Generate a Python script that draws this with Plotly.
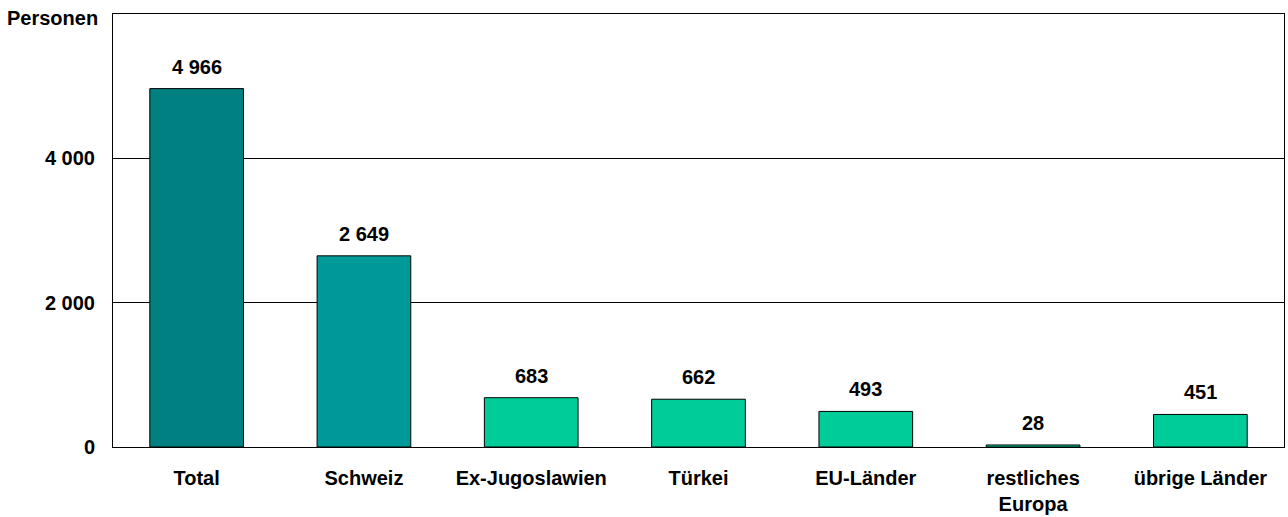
import plotly.graph_objects as go

categories = ["Total", "Schweiz", "Ex-Jugoslawien", "Türkei", "EU-Länder", "restliches<br>Europa", "übrige Länder"]
values = [4966, 2649, 683, 662, 493, 28, 451]
bar_colors = ["#008080", "#009999", "#00CC99", "#00CC99", "#00CC99", "#00CC99", "#00CC99"]
y_ticks = [0, 2000, 4000]
y_tick_text = ["0", "2 000", "4 000"]

FAM = "Liberation Sans, Arial, sans-serif"
font = dict(family=FAM, size=20, color="#000000")

fig = go.Figure()
fig.add_trace(go.Bar(
    x=categories, y=values,
    marker=dict(color=bar_colors, line=dict(color="#000000", width=1)),
    width=0.56, hoverinfo="skip",
))

for c, v in zip(categories, values):
    fig.add_annotation(x=c, y=v, text="<b>" + f"{v:,}".replace(",", " ") + "</b>",
                       showarrow=False, yanchor="bottom", yshift=9,
                       font=font)

fig.add_annotation(xref="paper", yref="paper", x=0, y=1.0, xanchor="right", yanchor="middle",
                   xshift=-13, yshift=-4,
                   text="<b>Personen</b>", showarrow=False, font=font)

fig.update_layout(
    width=1288, height=517,
    margin=dict(l=113, r=4, t=14, b=70),
    plot_bgcolor="#FFFFFF", paper_bgcolor="#FFFFFF",
    showlegend=False,
    font=font,
)
fig.update_xaxes(
    showline=True, linecolor="#000000", linewidth=1, mirror=True,
    ticks="", tickfont=dict(family=FAM, size=20, color="#000000", weight="bold"),
    ticklabelstandoff=13, automargin=False,
)
fig.update_yaxes(
    range=[0, 6000], tickvals=y_ticks, ticktext=["<b>" + t + "</b>" for t in y_tick_text],
    tickfont=dict(family=FAM, size=20, color="#000000"),
    showgrid=True, gridcolor="#000000", gridwidth=1,
    showline=True, linecolor="#000000", linewidth=1, mirror=True,
    ticks="", ticklabelstandoff=13, zeroline=False, automargin=False,
)
fig.write_html(
    "out.html",
    config={"displayModeBar": False},
    post_script="document.body.style.margin='0';document.body.style.overflow='hidden';"
                "document.documentElement.style.overflow='hidden';",
)
